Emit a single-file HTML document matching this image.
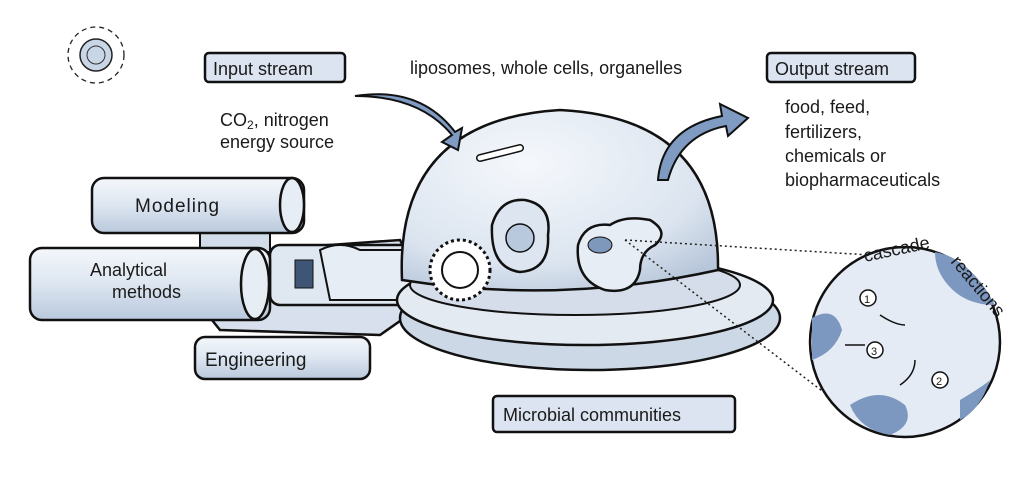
<!DOCTYPE html>
<html><head><meta charset="utf-8"><style>
html,body{margin:0;padding:0;background:#fff;width:1024px;height:498px;overflow:hidden}
svg{display:block}
text{font-family:"Liberation Sans",sans-serif;fill:#1a1a1a}
</style></head><body>
<svg width="1024" height="498" viewBox="0 0 1024 498" xmlns="http://www.w3.org/2000/svg">
<defs>
<linearGradient id="cyl" x1="0" y1="0" x2="0" y2="1">
<stop offset="0" stop-color="#f4f7fb"/><stop offset="0.5" stop-color="#dde6f1"/><stop offset="1" stop-color="#b9c8dc"/></linearGradient>
<radialGradient id="dome" cx="0.4" cy="0.3" r="0.8">
<stop offset="0" stop-color="#f5f8fc"/><stop offset="0.7" stop-color="#dbe4ef"/><stop offset="1" stop-color="#b7c6da"/></radialGradient>
</defs>
<circle cx="96" cy="55" r="16" fill="#c9d6e6" stroke="#222" stroke-width="1.5"/>
<circle cx="96" cy="55" r="9" fill="none" stroke="#333" stroke-width="1"/>
<circle cx="96" cy="55" r="28" fill="none" stroke="#222" stroke-width="1.3" stroke-dasharray="5 4"/>
<rect x="195" y="337" width="175" height="42" rx="10" fill="url(#cyl)" stroke="#111" stroke-width="2.5"/>
<text x="205" y="366" font-size="19">Engineering</text>
<path d="M200 305 L260 250 L400 240 L430 300 L380 335 L220 330 Z" fill="#d7e0ec" stroke="#111" stroke-width="2.5"/>
<rect x="200" y="222" width="70" height="30" fill="#d3dde9" stroke="#111" stroke-width="2"/>
<rect x="92" y="178" width="212" height="55" rx="12" fill="url(#cyl)" stroke="#111" stroke-width="2.5"/>
<ellipse cx="292" cy="205" rx="12" ry="27" fill="#e7edf5" stroke="#111" stroke-width="2.5"/>
<text x="135" y="212" font-size="19" letter-spacing="1">Modeling</text>
<rect x="270" y="245" width="150" height="60" rx="10" fill="#dfe7f1" stroke="#111" stroke-width="2.5"/>
<rect x="295" y="260" width="18" height="28" fill="#3e5575" stroke="#111"/>
<path d="M320 250 Q340 240 360 250 L420 250 L420 300 L330 300 Z" fill="#e6edf5" stroke="#111" stroke-width="2"/>
<rect x="30" y="248" width="240" height="72" rx="12" fill="url(#cyl)" stroke="#111" stroke-width="2.5"/>
<ellipse cx="255" cy="284" rx="14" ry="35" fill="#e7edf5" stroke="#111" stroke-width="2.5"/>
<text x="90" y="276" font-size="18">Analytical</text>
<text x="112" y="298" font-size="18">methods</text>
<ellipse cx="590" cy="318" rx="190" ry="52" fill="#cdd8e6" stroke="#111" stroke-width="2.5"/>
<ellipse cx="585" cy="300" rx="188" ry="45" fill="#e4eaf2" stroke="#111" stroke-width="2.5"/>
<ellipse cx="575" cy="285" rx="165" ry="30" fill="#d4dde9" stroke="#111" stroke-width="2"/>
<path d="M402 280 Q395 120 560 110 Q720 118 718 270 Q560 305 402 280 Z" fill="url(#dome)" stroke="#111" stroke-width="2.5"/>
<path d="M480 158 L520 148" stroke="#111" stroke-width="8" stroke-linecap="round"/>
<path d="M480 158 L520 148" stroke="#fff" stroke-width="5" stroke-linecap="round"/>
<circle cx="460" cy="270" r="30" fill="#fff" stroke="#111" stroke-width="3" stroke-dasharray="3 3"/>
<circle cx="460" cy="270" r="18" fill="#fff" stroke="#111" stroke-width="2"/>
<path d="M492 225 Q500 198 525 200 Q552 205 548 235 Q550 270 520 272 Q490 268 492 225 Z" fill="#dde5f0" stroke="#111" stroke-width="2.5"/>
<circle cx="520" cy="238" r="14" fill="#b8c8dd" stroke="#111" stroke-width="1.5"/>
<path d="M578 245 Q585 222 610 225 Q625 215 650 220 Q670 232 655 245 Q640 252 640 270 Q635 295 605 290 Q575 280 578 245 Z" fill="#e6edf5" stroke="#111" stroke-width="2.5"/>
<ellipse cx="600" cy="245" rx="12" ry="8" fill="#7e98bb" stroke="#111"/>
<path d="M355 96 Q420 96 452 135 L442 142 L458 150 L462 128 L455 132 Q420 86 355 96 Z" fill="#7f9bc2" stroke="#111" stroke-width="2"/>
<path d="M658 180 Q662 128 722 116 L720 104 L748 118 L728 136 L726 126 Q680 135 668 180 Z" fill="#7f9bc2" stroke="#111" stroke-width="2"/>
<path d="M625 240 L870 255 M625 240 L860 420" stroke="#222" stroke-width="1.5" stroke-dasharray="2 3" fill="none"/>
<circle cx="905" cy="342" r="95" fill="#e4ebf4" stroke="#111" stroke-width="2.5"/>
<path d="M812 318 Q835 305 842 330 Q835 352 812 360 Z M935 252 Q970 258 995 305 Q965 305 948 285 Q935 270 935 252 Z M850 405 Q880 385 905 405 Q915 425 890 435 Q860 430 850 405 Z M960 400 Q985 385 990 380 Q980 410 960 420 Z" fill="#7c98c0"/>
<circle cx="868" cy="298" r="8" fill="#fff" stroke="#111" stroke-width="1.5"/><text x="864" y="303" font-size="11">1</text>
<circle cx="940" cy="380" r="8" fill="#fff" stroke="#111" stroke-width="1.5"/><text x="936" y="385" font-size="11">2</text>
<circle cx="875" cy="350" r="8" fill="#fff" stroke="#111" stroke-width="1.5"/><text x="871" y="355" font-size="11">3</text>
<path d="M880 315 Q895 325 905 325 M915 360 Q915 375 900 385 M865 345 L845 345" stroke="#111" stroke-width="1.5" fill="none"/>
<text x="865" y="262" font-size="18" transform="rotate(-12 865 262)">cascade</text>
<text x="950" y="262" font-size="18" transform="rotate(50 950 262)">reactions</text>
<rect x="205" y="53" width="140" height="29" rx="4" fill="#dbe4f0" stroke="#111" stroke-width="2.5"/>
<text x="213" y="75" font-size="18">Input stream</text>
<rect x="767" y="53" width="148" height="29" rx="4" fill="#dbe4f0" stroke="#111" stroke-width="2.5"/>
<text x="775" y="75" font-size="18">Output stream</text>
<rect x="493" y="396" width="242" height="36" rx="4" fill="#dbe4f0" stroke="#111" stroke-width="2.5"/>
<text x="503" y="421" font-size="18">Microbial communities</text>
<text x="410" y="74" font-size="18">liposomes, whole cells, organelles</text>
<text x="220" y="126" font-size="18">CO<tspan font-size="12" dy="3">2</tspan><tspan dy="-3">, nitrogen</tspan></text>
<text x="220" y="148" font-size="18">energy source</text>
<text x="785" y="113" font-size="18">food, feed,</text>
<text x="785" y="138" font-size="18">fertilizers,</text>
<text x="785" y="162" font-size="18">chemicals or</text>
<text x="785" y="186" font-size="18">biopharmaceuticals</text>
</svg>
</body></html>
